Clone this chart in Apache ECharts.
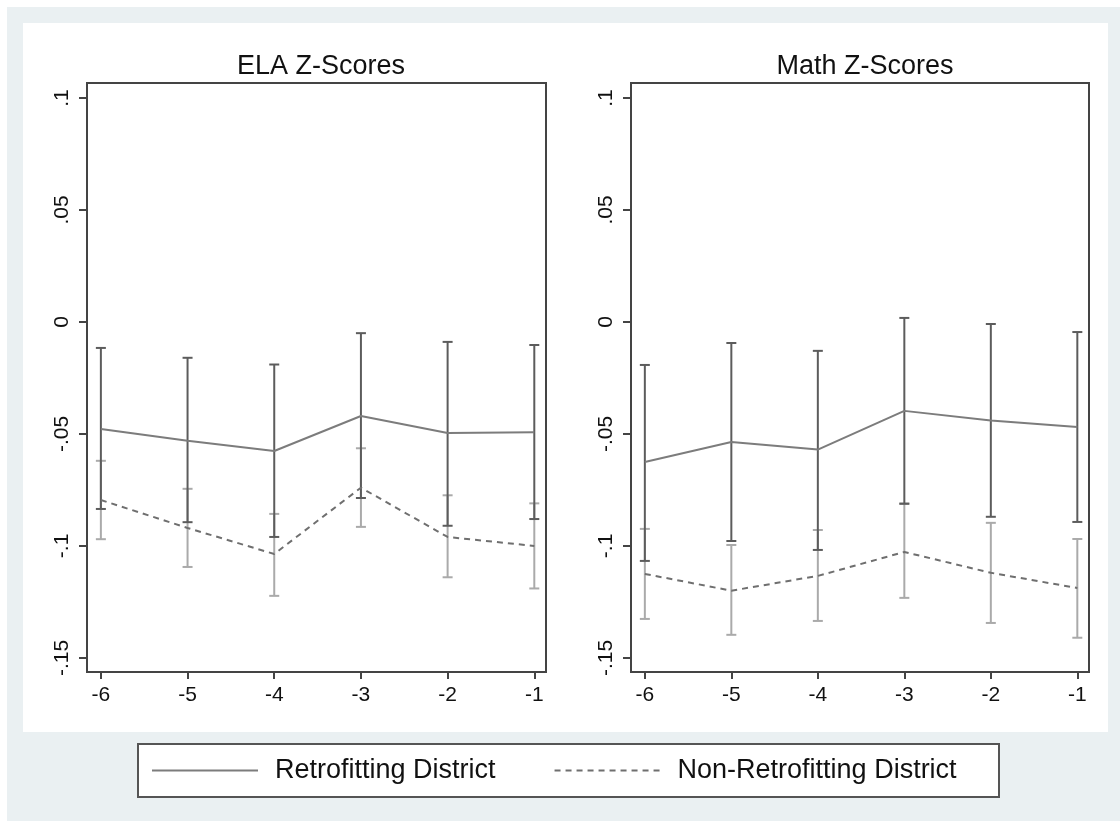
<!DOCTYPE html>
<html>
<head>
<meta charset="utf-8">
<script src="https://cdn.jsdelivr.net/npm/echarts@6/dist/echarts.min.js"></script>
<style>
  body { margin: 0; background: #fff; }
  .outer { position: absolute; left: 7px; top: 7px; width: 1113px; height: 814px; background: #eaf0f2; }
  .inner { position: absolute; left: 23px; top: 23px; width: 1085px; height: 709px; background: #fff; }
  .legend-box { position: absolute; left: 137px; top: 743px; width: 859px; height: 51px; background: #fff; border: 2px solid #555; }
  #chart { position: absolute; left: 0; top: 0; width: 1120px; height: 821px; }
</style>
</head>
<body>
<div class="outer"></div>
<div class="inner"></div>
<div class="legend-box"></div>
<div id="chart"></div>
<script>
  // years before retrofit
  let years = [-6, -5, -4, -3, -2, -1];
  let yTicks = [-0.15, -0.1, -0.05, 0, 0.05, 0.1];

  // ELA z-scores
  let elaRetro   = [-0.0478, -0.0530, -0.0576, -0.0420, -0.0496, -0.0492];
  let elaRetroHi = [-0.0116, -0.0160, -0.0190, -0.0050, -0.0089, -0.0103];
  let elaRetroLo = [-0.0835, -0.0894, -0.0960, -0.0786, -0.0910, -0.0880];
  let elaNon     = [-0.0795, -0.0920, -0.1036, -0.0740, -0.0960, -0.1000];
  let elaNonHi   = [-0.0620, -0.0745, -0.0857, -0.0564, -0.0774, -0.0810];
  let elaNonLo   = [-0.0970, -0.1094, -0.1223, -0.0915, -0.1140, -0.1190];

  // Math z-scores
  let mathRetro   = [-0.0625, -0.0536, -0.0570, -0.0397, -0.0440, -0.0469];
  let mathRetroHi = [-0.0192, -0.0094, -0.0129, 0.0018, -0.0009, -0.0045];
  let mathRetroLo = [-0.1067, -0.0978, -0.1018, -0.0812, -0.0870, -0.0893];
  let mathNon     = [-0.1125, -0.1200, -0.1134, -0.1027, -0.1120, -0.1188];
  let mathNonHi   = [-0.0924, -0.0996, -0.0929, -0.0810, -0.0897, -0.0969];
  let mathNonLo   = [-0.1326, -0.1397, -0.1335, -0.1232, -0.1344, -0.1410];

  const FONT = "'Liberation Sans', Arial, Helvetica, sans-serif";
  let dom = document.getElementById('chart');
  let myChart = echarts.init(dom, null, {renderer: 'canvas'});

  function pairs(ys) {
    return years.map(function (x, i) { return [x, ys[i]]; });
  }

  function errBars(lo, hi, color, idx) {
    return {
      type: 'custom',
      xAxisIndex: idx,
      yAxisIndex: idx,
      silent: true,
      data: years.map(function (x, i) { return [x, lo[i], hi[i]]; }),
      encode: {x: 0, y: [1, 2]},
      renderItem: function (params, api) {
        let top = api.coord([api.value(0), api.value(2)]);
        let bot = api.coord([api.value(0), api.value(1)]);
        let st = {stroke: color, lineWidth: 2};
        let w = 5;
        return {
          type: 'group',
          children: [
            {type: 'line', shape: {x1: top[0], y1: top[1], x2: bot[0], y2: bot[1]}, style: st},
            {type: 'line', shape: {x1: top[0] - w, y1: top[1], x2: top[0] + w, y2: top[1]}, style: st},
            {type: 'line', shape: {x1: bot[0] - w, y1: bot[1], x2: bot[0] + w, y2: bot[1]}, style: st}
          ]
        };
      }
    };
  }

  function lineSeries(name, ys, dashed, idx) {
    let c = dashed ? '#6f6f6f' : '#7c7c7c';
    return {
      type: 'line',
      name: name,
      xAxisIndex: idx,
      yAxisIndex: idx,
      data: pairs(ys),
      symbol: 'none',
      lineStyle: {color: c, width: 2, type: dashed ? [6, 5] : 'solid'},
      itemStyle: {color: c},
      z: 5
    };
  }

  function fmtY(v) {
    let s = String(Math.round(v * 100) / 100);
    return s.replace('0.', '.');
  }

  function xAxis(idx) {
    return {
      type: 'value',
      gridIndex: idx,
      min: -6.16,
      max: -0.865,
      splitLine: {show: false},
      axisLine: {show: true, onZero: false, lineStyle: {color: '#444', width: 2}},
      axisTick: {show: true, length: 7, lineStyle: {color: '#444', width: 2}, customValues: years},
      axisLabel: {customValues: years, margin: 13, fontSize: 21, color: '#111', fontFamily: FONT}
    };
  }

  function yAxis(idx) {
    return {
      type: 'value',
      gridIndex: idx,
      min: -0.1563,
      max: 0.1067,
      splitLine: {show: false},
      axisLine: {show: true, onZero: false, lineStyle: {color: '#444', width: 2}},
      axisTick: {show: true, length: 8, lineStyle: {color: '#444', width: 2}, customValues: yTicks},
      axisLabel: {customValues: yTicks, rotate: 90, margin: 14, fontSize: 21, color: '#111',
        fontFamily: FONT, formatter: fmtY}
    };
  }

  let option = {
    animation: false,
    backgroundColor: 'transparent',
    title: [
      {text: 'ELA Z-Scores', left: 316, top: 48, textAlign: 'center',
        textStyle: {fontSize: 27, fontWeight: 'normal', color: '#111', fontFamily: FONT}},
      {text: 'Math Z-Scores', left: 860, top: 48, textAlign: 'center',
        textStyle: {fontSize: 27, fontWeight: 'normal', color: '#111', fontFamily: FONT}}
    ],
    grid: [
      {left: 87, top: 83, width: 459, height: 589, show: true, backgroundColor: '#fff', borderColor: '#444', borderWidth: 2},
      {left: 631, top: 83, width: 458, height: 589, show: true, backgroundColor: '#fff', borderColor: '#444', borderWidth: 2}
    ],
    xAxis: [xAxis(0), xAxis(1)],
    yAxis: [yAxis(0), yAxis(1)],
    legend: {
      data: ['Retrofitting District', 'Non-Retrofitting District'],
      left: 151,
      top: 757,
      padding: 0,
      itemWidth: 106,
      itemHeight: 2,
      itemGap: 58,
      itemStyle: {opacity: 0},
      lineStyle: {width: 2},
      textStyle: {fontSize: 27, color: '#111', fontFamily: FONT, padding: [0, 0, 0, 12]}
    },
    series: [
      errBars(elaNonLo, elaNonHi, '#aaaaaa', 0),
      errBars(elaRetroLo, elaRetroHi, '#5c5c5c', 0),
      lineSeries('Retrofitting District', elaRetro, false, 0),
      lineSeries('Non-Retrofitting District', elaNon, true, 0),
      errBars(mathNonLo, mathNonHi, '#aaaaaa', 1),
      errBars(mathRetroLo, mathRetroHi, '#5c5c5c', 1),
      lineSeries('Retrofitting District', mathRetro, false, 1),
      lineSeries('Non-Retrofitting District', mathNon, true, 1)
    ]
  };
  if (option && typeof option === "object") {
    myChart.setOption(option, true);
  }
</script>
</body>
</html>
